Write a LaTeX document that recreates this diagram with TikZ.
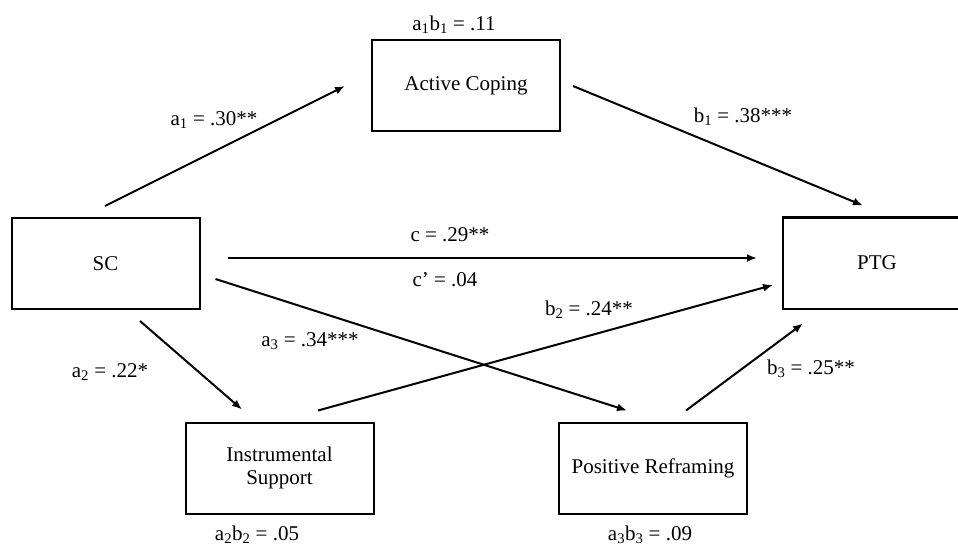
\documentclass[tikz,border=0pt]{standalone}
\usepackage{fontspec}
\setmainfont{Liberation Serif}
\usetikzlibrary{arrows.meta,calc}
\begin{document}
\begin{tikzpicture}[x=1pt,y=-1pt,
  every node/.style={font=\fontsize{21}{25}\selectfont},
  varbox/.style={draw,line width=2pt,minimum width=188pt,minimum height=91pt,inner sep=0pt,align=center},
  lbl/.style={inner sep=0pt},
  path/.style={line width=2pt,-{Latex[length=10pt,width=8pt]}}]
\useasboundingbox (0,0) rectangle (958,548);
\fill[white] (0,0) rectangle (958,548);
% boxes
\node[varbox] (AC) at (466,85.5) {Active Coping};
\node[varbox] (SC) at (105.5,263.5) {SC};
\node[varbox] (PTG) at (877,263) {PTG};
\node[varbox] (IS) at (279.5,468) {Instrumental\\[-2pt]Support};
\node[varbox] (PR) at (653,468) {Positive Reframing};
% connectors
\draw[path] ($(SC.north)+(-0.5,-11)$) -- ($(AC.west)+(-26,0.5)$);
\draw[path] ($(AC.east)+(12,0.5)$) -- ($(PTG.north)+(-14,-11)$);
\draw[path] ($(SC.east)+(27,-5.5)$) -- ($(PTG.west)+(-25,-5)$);
\draw[path] ($(SC.east)+(15,15.5)$) -- ($(PR.north)+(-26,-11)$);
\draw[path] ($(SC.south)+(34.5,11)$) -- ($(IS.north)+(-37.5,-12)$);
\draw[path] ($(IS.north)+(38.5,-11)$) -- ($(PTG.west)+(-9,22)$);
\draw[path] ($(PR.north)+(33,-11)$) -- ($(PTG.south)+(-74,14)$);
% labels
\node[lbl] (l1) at (454,25) {a\textsubscript{1}b\textsubscript{1} = .11};
\node[lbl] (l2) at (214,120) {a\textsubscript{1} = .30**};
\node[lbl] (l3) at (743,117) {b\textsubscript{1} = .38***};
\node[lbl] (l4) at (450,235) {c = .29**};
\node[lbl] (l5) at (445,280) {c’ = .04};
\node[lbl] (l6) at (589,310) {b\textsubscript{2} = .24**};
\node[lbl] (l7) at (310,341) {a\textsubscript{3} = .34***};
\node[lbl] (l8) at (110,372) {a\textsubscript{2} = .22*};
\node[lbl] (l9) at (811,369) {b\textsubscript{3} = .25**};
\node[lbl] (l10) at (257,535) {a\textsubscript{2}b\textsubscript{2} = .05};
\node[lbl] (l11) at (650,535) {a\textsubscript{3}b\textsubscript{3} = .09};
\end{tikzpicture}
\end{document}
